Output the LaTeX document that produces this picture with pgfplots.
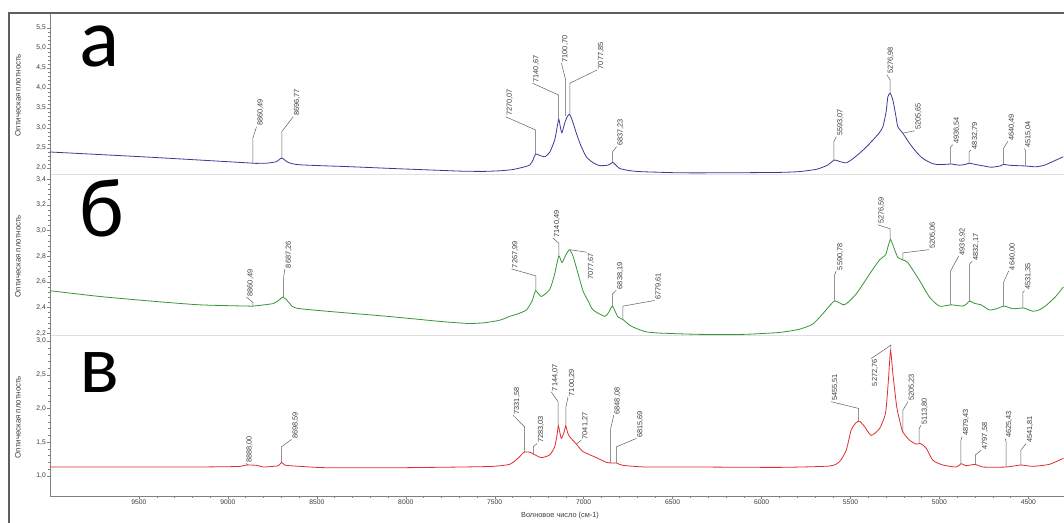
\documentclass[border=0pt]{standalone}
\usepackage{pgfplots}
\pgfplotsset{compat=1.18}
\usepackage{fontspec}
\setmainfont{Liberation Sans}
\newfontfamily\bigfont{Carlito}
\definecolor{cA}{RGB}{58,58,150}
\definecolor{cB}{RGB}{55,150,55}
\definecolor{cC}{RGB}{225,45,45}
\definecolor{txt}{RGB}{60,60,60}
\definecolor{lead}{RGB}{95,95,95}
\definecolor{frame}{RGB}{95,95,95}
\newcommand{\pk}[6]{\draw[lead,line width=0.5bp] (axis cs:#1,#2)--(axis cs:#1,#3)--(axis cs:#4,#5) node[rotate=90,anchor=north west,inner sep=0.6bp,font=\fontsize{7.4}{8}\selectfont,text=txt]{#6};}
\newcommand{\pkd}[6]{\draw[lead,line width=0.5bp] (axis cs:#1,#2)--(axis cs:#1,#3)--(axis cs:#4,#5) node[rotate=90,anchor=north east,inner sep=0.6bp,font=\fontsize{7.4}{8}\selectfont,text=txt]{#6};}
\pgfplotsset{
  panel/.style={
    scale only axis, width=1014bp, height=161bp,
    x dir=reverse, xmin=4300, xmax=10000,
    scaled x ticks=false, scaled y ticks=false,
    axis x line*=bottom, axis y line*=left,
    tick align=outside,
    major tick length=3bp, minor tick length=1.5bp,
    minor y tick num=4,
    every tick/.style={gray},
    y axis line style={gray},
    /pgf/number format/assume math mode=true,
    yticklabel style={font=\fontsize{6.8}{7}\selectfont, text=txt, inner sep=1bp,
      /pgf/number format/fixed, /pgf/number format/fixed zerofill,
      /pgf/number format/precision=1, /pgf/number format/use comma},
    xticklabel style={font=\fontsize{6.8}{7}\selectfont, text=txt, inner sep=1bp,
      /pgf/number format/fixed, /pgf/number format/precision=0,
      /pgf/number format/1000 sep={}},
    ylabel={Оптическая плотность},
    ylabel style={at={(axis description cs:-0.0316,0.49)}, anchor=center,
      font=\fontsize{7.9}{8}\selectfont, text=txt},
    clip=true,
  },
  toppanel/.style={panel, xtick=\empty, x axis line style={gray!25}},
  spec/.style={line width=0.8bp, smooth, tension=0.35},
}
\begin{document}
\begin{tikzpicture}
\useasboundingbox (0,0) rectangle (1064bp,523bp);
\fill[white] (0,0) rectangle (1064bp,523bp);
% panel a
\begin{axis}[toppanel, at={(50bp,349bp)}, anchor=south west,
  ymin=1.85, ymax=5.875, ytick={2,2.5,...,5.5}]
\addplot[cA, spec] coordinates {
(10000,2.40) (9438,2.27) (8876,2.125) (8860,2.12) (8783,2.12) (8726,2.16) (8698,2.25) (8661,2.14)
(8596,2.08) (8300,2.03) (8034,1.98) (7800,1.94) (7680,1.92) (7560,1.915) (7472,1.93) (7400,1.96) (7340,2.02)
(7303,2.075) (7285,2.2) (7270,2.35) (7250,2.32) (7219,2.28) (7190,2.4) (7163,2.7) (7150,3.0)
(7140,3.22) (7130,3.0) (7122,2.88) (7105,3.15) (7090,3.3) (7079,3.34) (7065,3.2) (7041,2.87)
(7015,2.55) (6985,2.28) (6950,2.14) (6910,2.06) (6864,2.07) (6845,2.12) (6836,2.14) (6825,2.1)
(6798,1.99) (6750,1.94) (6685,1.91) (6461,1.88) (6200,1.88) (5900,1.89) (5787,1.91) (5700,1.96)
(5674,1.99) (5630,2.07) (5590,2.2) (5560,2.16) (5524,2.13) (5490,2.22) (5449,2.37) (5410,2.53)
(5374,2.7) (5340,2.87) (5318,3.03) (5300,3.4) (5290,3.78) (5277,3.87) (5262,3.7) (5245,3.3)
(5234,3.03) (5206,2.87) (5169,2.62) (5130,2.4) (5094,2.24) (5050,2.13) (5019,2.09) (4970,2.09)
(4934,2.1) (4888,2.07) (4855,2.09) (4831,2.12) (4800,2.09) (4775,2.07) (4710,2.02) (4660,2.05)
(4640,2.09) (4610,2.07) (4569,2.06) (4515,2.05) (4458,2.03) (4410,2.07) (4364,2.16) (4304,2.28)
};
\pk{8860}{2.12}{2.74}{8839}{3.03}{8860,49}
\pk{8697}{2.25}{2.91}{8633}{3.28}{8696,77}
\pk{7270}{2.35}{2.95}{7438}{3.28}{7270,07}
\pk{7141}{3.22}{3.825}{7288}{4.12}{7140,67}
\pk{7101}{3.3}{4.2}{7125}{4.62}{7100,70}
\pk{7078}{3.34}{4.12}{6925}{4.45}{7077,85}
\pk{6837}{2.14}{2.41}{6815}{2.53}{6837,23}
\pk{5593}{2.2}{2.66}{5580}{2.78}{5593,07}
\pk{5277}{3.87}{4.2}{5296}{4.33}{5276,98}
\pk{5206}{2.87}{2.87}{5140}{2.93}{5205,65}
\pk{4937}{2.1}{2.53}{4925}{2.58}{4936,54}
\pk{4833}{2.12}{2.41}{4822}{2.45}{4832,79}
\pk{4640}{2.09}{2.49}{4616}{2.66}{4640,49}
\pk{4515}{2.05}{2.41}{4522}{2.49}{4515,04}
\end{axis}
% panel b
\begin{axis}[toppanel, at={(50bp,188bp)}, anchor=south west,
  ymin=2.185, ymax=3.44, ytick={2.2,2.4,...,3.41}]
\addplot[cB, spec] coordinates {
(10000,2.53) (9719,2.485) (9438,2.45) (9157,2.42) (8876,2.41) (8860,2.41) (8745,2.43) (8710,2.46)
(8693,2.48) (8670,2.46) (8652,2.43) (8596,2.39) (8100,2.33) (7800,2.29) (7650,2.275) (7560,2.28)
(7472,2.30) (7416,2.33)
(7370,2.35) (7322,2.38) (7290,2.45) (7270,2.53) (7238,2.485) (7191,2.54) (7165,2.65) (7140,2.80)
(7122,2.75) (7100,2.81) (7079,2.85) (7060,2.80) (7041,2.71) (7004,2.53) (6975,2.45) (6947,2.38)
(6882,2.33) (6860,2.36) (6839,2.41) (6820,2.36) (6807,2.325) (6779,2.305) (6740,2.26) (6704,2.236)
(6650,2.21) (6573,2.20) (6348,2.19) (6100,2.19) (5899,2.205) (5787,2.23) (5712,2.27) (5656,2.35)
(5590,2.45) (5534,2.42) (5468,2.505) (5393,2.66) (5337,2.77) (5303,2.81) (5290,2.87) (5275,2.93)
(5255,2.86) (5234,2.79) (5206,2.77) (5178,2.75) (5112,2.61) (5056,2.48) (5000,2.41) (4934,2.42)
(4869,2.41) (4845,2.43) (4831,2.45) (4800,2.43) (4766,2.42) (4719,2.38) (4680,2.39) (4635,2.41)
(4588,2.39) (4526,2.395) (4476,2.37) (4440,2.38) (4401,2.415) (4350,2.48) (4303,2.56)
};
\pk{8860}{2.41}{2.44}{8895}{2.48}{8860,49}
\pk{8687}{2.48}{2.63}{8680}{2.7}{8687,26}
\pk{7268}{2.53}{2.646}{7406}{2.7}{7267,99}
\pk{7140}{2.8}{2.9}{7172}{2.94}{7140,49}
\pkd{7078}{2.85}{2.85}{6981}{2.83}{7077,67}
\pk{6838}{2.41}{2.505}{6816}{2.536}{6838,19}
\pk{6780}{2.305}{2.41}{6601}{2.454}{6779,61}
\pk{5591}{2.45}{2.646}{5580}{2.685}{5590,78}
\pk{5277}{2.93}{3.013}{5347}{3.044}{5276,59}
\pk{5205}{2.77}{2.825}{5060}{2.85}{5205,06}
\pk{4937}{2.42}{2.685}{4892}{2.8}{4936,92}
\pk{4832}{2.45}{2.736}{4816}{2.76}{4832,17}
\pk{4640}{2.41}{2.595}{4611}{2.685}{4640,00}
\pk{4531}{2.395}{2.518}{4522}{2.53}{4531,35}
\end{axis}
% panel c
\begin{axis}[panel, at={(50bp,27bp)}, anchor=south west,
  ymin=0.70, ymax=3.09, ytick={1,1.5,...,3},
  xtick={4500,5000,...,9500}, minor x tick num=4,
  x axis line style={gray},
  xlabel={Волновое число (см-1)},
  xlabel style={at={(axis description cs:0.503,-0.124)}, anchor=center,
    font=\fontsize{7.4}{8}\selectfont, text=txt}]
\addplot[cC, spec] coordinates {
(10000,1.13) (9500,1.13) (9200,1.13) (9000,1.135) (8930,1.14) (8894,1.16) (8838,1.155) (8801,1.13)
(8745,1.14) (8715,1.15) (8698,1.20) (8680,1.16) (8652,1.15) (8596,1.14) (8446,1.12) (8034,1.12)
(7697,1.13) (7510,1.14) (7416,1.17) (7369,1.26) (7335,1.35) (7303,1.35) (7281,1.32) (7238,1.27)
(7191,1.31) (7163,1.43) (7150,1.6) (7142,1.74) (7126,1.555) (7110,1.65) (7101,1.74) (7090,1.64)
(7079,1.58) (7041,1.47) (7004,1.36) (6929,1.27) (6873,1.20) (6845,1.19) (6816,1.19) (6779,1.155)
(6648,1.13) (6348,1.13) (5899,1.125) (5618,1.145) (5562,1.21) (5524,1.38) (5496,1.68) (5468,1.79)
(5449,1.81) (5421,1.73) (5384,1.60) (5337,1.70) (5303,1.93) (5287,2.42) (5275,2.86) (5262,2.52)
(5240,2.02) (5220,1.78) (5206,1.65) (5169,1.53) (5131,1.47) (5107,1.48) (5075,1.41) (5037,1.23)
(4981,1.16) (4906,1.13) (4878,1.18) (4850,1.15) (4798,1.17) (4757,1.13) (4626,1.13) (4542,1.16)
(4476,1.14) (4382,1.17) (4303,1.26)
};
\pk{8888}{1.15}{1.17}{8900}{1.18}{8888,00}
\pk{8699}{1.2}{1.43}{8642}{1.54}{8698,59}
\pk{7332}{1.35}{1.727}{7397}{1.9}{7331,58}
\pk{7283}{1.32}{1.43}{7262}{1.48}{7283,03}
\pk{7144}{1.74}{2.1}{7182}{2.246}{7144,07}
\pk{7100}{1.74}{2.02}{7088}{2.17}{7100,29}
\pk{7041}{1.47}{1.47}{7013}{1.53}{7041,27}
\pk{6848}{1.19}{1.7}{6831}{1.9}{6848,08}
\pk{6816}{1.19}{1.43}{6704}{1.555}{6815,69}
\pk{5455}{1.81}{2.0}{5609}{2.1}{5455,51}
\pkd{5273}{2.86}{2.94}{5384}{2.74}{5272,76}
\pk{5205}{1.65}{1.975}{5177}{2.1}{5205,23}
\pk{5114}{1.48}{1.7}{5104}{1.75}{5113,80}
\pk{4879}{1.18}{1.53}{4873}{1.58}{4879,43}
\pk{4798}{1.17}{1.31}{4766}{1.38}{4797,58}
\pk{4625}{1.13}{1.5}{4631}{1.555}{4625,43}
\pk{4542}{1.16}{1.38}{4513}{1.48}{4541,81}
\end{axis}
% frame
\draw[frame, line width=1.6bp] (1064bp,510bp) -- (9bp,510bp) -- (9bp,0bp);
% panel letters
\node[anchor=base west, inner sep=0pt, font=\bigfont\fontsize{84}{84}\selectfont] at (79bp,456bp) {а};
\node[anchor=base west, inner sep=0pt, font=\bigfont\fontsize{84}{84}\selectfont] at (79bp,286bp) {б};
\node[anchor=base west, inner sep=0pt, font=\bigfont\fontsize{84}{84}\selectfont] at (79bp,130bp) {в};
\end{tikzpicture}
\end{document}
